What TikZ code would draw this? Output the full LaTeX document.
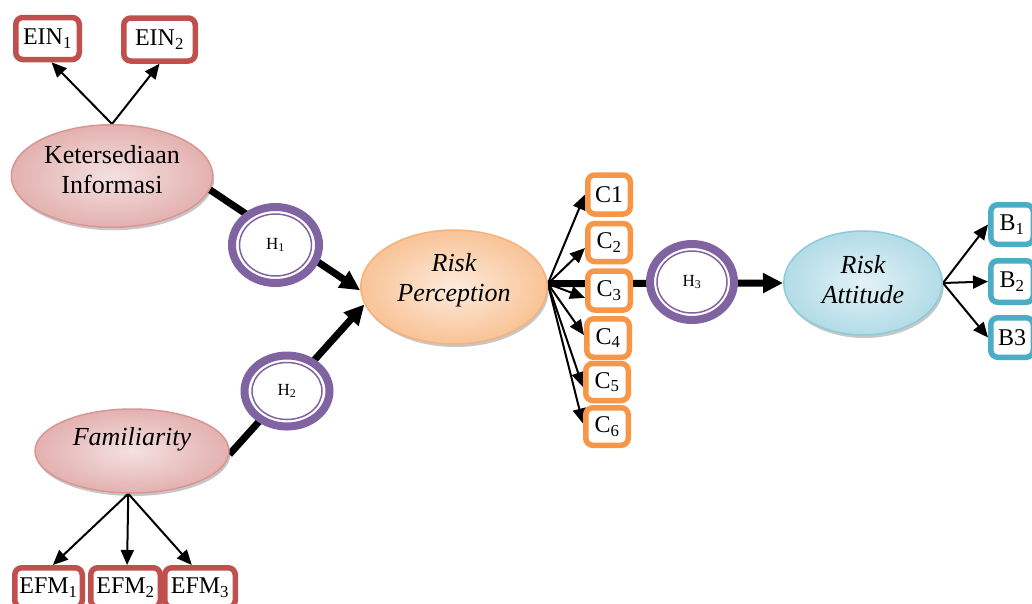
\documentclass[tikz,border=0pt]{standalone}
\usepackage{fontspec}
\setmainfont{Liberation Serif}
\usetikzlibrary{arrows.meta,shadows,calc,shapes.geometric}
\definecolor{indred}{HTML}{C0504D}
\definecolor{indorange}{HTML}{F79646}
\definecolor{indteal}{HTML}{4BACC6}
\definecolor{hpur}{HTML}{8064A2}
\definecolor{pinkin}{HTML}{F4E1E0}
\definecolor{pinkout}{HTML}{E3B1B0}
\definecolor{pinkbd}{HTML}{D99694}
\definecolor{orin}{HTML}{FDEBDD}
\definecolor{orout}{HTML}{F9C396}
\definecolor{orbd}{HTML}{F5B27C}
\definecolor{blin}{HTML}{E2F2F6}
\definecolor{blout}{HTML}{B2DCE7}
\definecolor{blbd}{HTML}{8DCBDA}
\pgfdeclarelayer{bg}
\pgfsetlayers{bg,main}
\begin{document}
\begin{tikzpicture}[x=1pt,y=-1pt,
  lat/.style={ellipse, draw, line width=1.5pt, inner sep=0pt,
    drop shadow={shadow xshift=1.5pt, shadow yshift=-3pt, fill=black, opacity=0.22}},
  ltxt/.style={align=center, font=\fontsize{26}{30}\selectfont, inner sep=0pt},
  ind/.style={draw, line width=5.5pt, rounded corners=7pt, fill=white,
    font=\fontsize{24}{28}\selectfont, inner sep=0pt},
  hyp/.style={ellipse, draw=hpur, line width=8pt, fill=white,
    font=\fontsize{17}{20}\selectfont, inner sep=0pt,
    minimum width=87pt, minimum height=76pt},
  thinarr/.style={line width=2pt, -{Triangle[length=15pt,width=13pt]}},
  thickarr/.style={line width=7pt, -{Triangle[length=20pt,width=19pt]}}
]
\useasboundingbox (0,0) rectangle (1032,603);

% latent variables
\node[lat, draw=pinkbd, inner color=pinkin, outer color=pinkout,
  minimum width=201.5pt, minimum height=102.5pt] (ket) at (112,176) {};
\node[ltxt] (kett) at (112,170) {Ketersediaan\\Informasi};

\node[lat, draw=pinkbd, inner color=pinkin, outer color=pinkout,
  minimum width=194pt, minimum height=84pt] (fam) at (132,451) {};
\node[ltxt, font=\fontsize{26}{30}\selectfont\itshape] (famt) at (132,439) {Familiarity};

\node[lat, draw=orbd, inner color=orin, outer color=orout,
  minimum width=186.5pt, minimum height=114pt] (rp) at (454,287) {};
\node[ltxt, font=\fontsize{26}{30}\selectfont\itshape] (rpt) at (454,280) {Risk\\Perception};

\node[lat, draw=blbd, inner color=blin, outer color=blout,
  minimum width=158.5pt, minimum height=104pt] (ra) at (863,283) {};
\node[ltxt, font=\fontsize{26}{30}\selectfont\itshape] (rat) at (863,280) {Risk\\Attitude};

% indicators
\node[ind, draw=indred, minimum width=63.5pt, minimum height=42pt] (ein1) at (47.5,38.5) {EIN\textsubscript{1}};
\node[ind, draw=indred, minimum width=71.5pt, minimum height=43pt] (ein2) at (159.5,39.5) {EIN\textsubscript{2}};

\node[ind, draw=indred, minimum width=67.5pt, minimum height=39.5pt] (efm1) at (48.5,587.5) {EFM\textsubscript{1}};
\node[ind, draw=indred, minimum width=69.5pt, minimum height=39.5pt] (efm2) at (125.5,587.5) {EFM\textsubscript{2}};
\node[ind, draw=indred, minimum width=70.5pt, minimum height=39.5pt] (efm3) at (200,587.5) {EFM\textsubscript{3}};

\node[ind, draw=indorange, minimum width=42.5pt, minimum height=39pt] (c1) at (609,194.5) {C1};
\node[ind, draw=indorange, minimum width=42.5pt, minimum height=38pt] (c2) at (609,242.5) {C\textsubscript{2}};
\node[ind, draw=indorange, minimum width=42.5pt, minimum height=39pt] (c3) at (609,290.5) {C\textsubscript{3}};
\node[ind, draw=indorange, minimum width=42.5pt, minimum height=38.5pt] (c4) at (608,338) {C\textsubscript{4}};
\node[ind, draw=indorange, minimum width=42.5pt, minimum height=37pt] (c5) at (607,382) {C\textsubscript{5}};
\node[ind, draw=indorange, minimum width=42.5pt, minimum height=37.5pt] (c6) at (607,426.5) {C\textsubscript{6}};

\node[ind, draw=indteal, minimum width=42.5pt, minimum height=39.5pt] (b1) at (1012,224.5) {B\textsubscript{1}};
\node[ind, draw=indteal, minimum width=42.5pt, minimum height=41.5pt] (b2) at (1012,281.5) {B\textsubscript{2}};
\node[ind, draw=indteal, minimum width=42.5pt, minimum height=39.5pt] (b3) at (1012,337.5) {B3};

% hypotheses
\node[hyp, minimum width=87pt, minimum height=76pt] (h1) at (275.5,245) {H\textsubscript{1}};
\node[hyp, minimum width=85pt, minimum height=71pt] (h2) at (287,391) {H\textsubscript{2}};
\node[hyp, minimum width=84pt, minimum height=76pt] (h3) at (692,282) {H\textsubscript{3}};
\foreach \h/\rx/\ry in {h1/36/31, h2/35/28.5, h3/35/31}{
  \draw[hpur, line width=1.5pt] (\h.center) ellipse [x radius=\rx pt, y radius=\ry pt];
}

% connectors
\begin{pgfonlayer}{bg}
\draw[thinarr] (ket.north) -- ($(ein1.south)+(4,0)$);
\draw[thinarr] (ket.north) -- (ein2.south);
\draw[thinarr] (fam.265) -- (efm1.79);
\draw[thinarr] (fam.265) -- (efm2.86);
\draw[thinarr] (fam.265) -- (efm3.110);

\draw[thickarr] (ket.-8) -- (rp.182);
\draw[thickarr] (fam.-2) -- (rp.191);
\draw[thickarr] (rp.2) -- (ra.west);

\draw[thinarr] (rp.2) -- (c1.west);
\draw[thinarr] (rp.2) -- (c2.193);
\draw[thinarr] (rp.2) -- (c3.197);
\draw[thinarr] (rp.2) -- (c4.173);
\draw[thinarr] (rp.2) -- (c5.192);
\draw[thinarr] (rp.2) -- (c6.173);

\draw[thinarr] (ra.east) -- (b1.west);
\draw[thinarr] (ra.east) -- (b2.west);
\draw[thinarr] (ra.east) -- (b3.west);
\end{pgfonlayer}
\end{tikzpicture}
\end{document}
